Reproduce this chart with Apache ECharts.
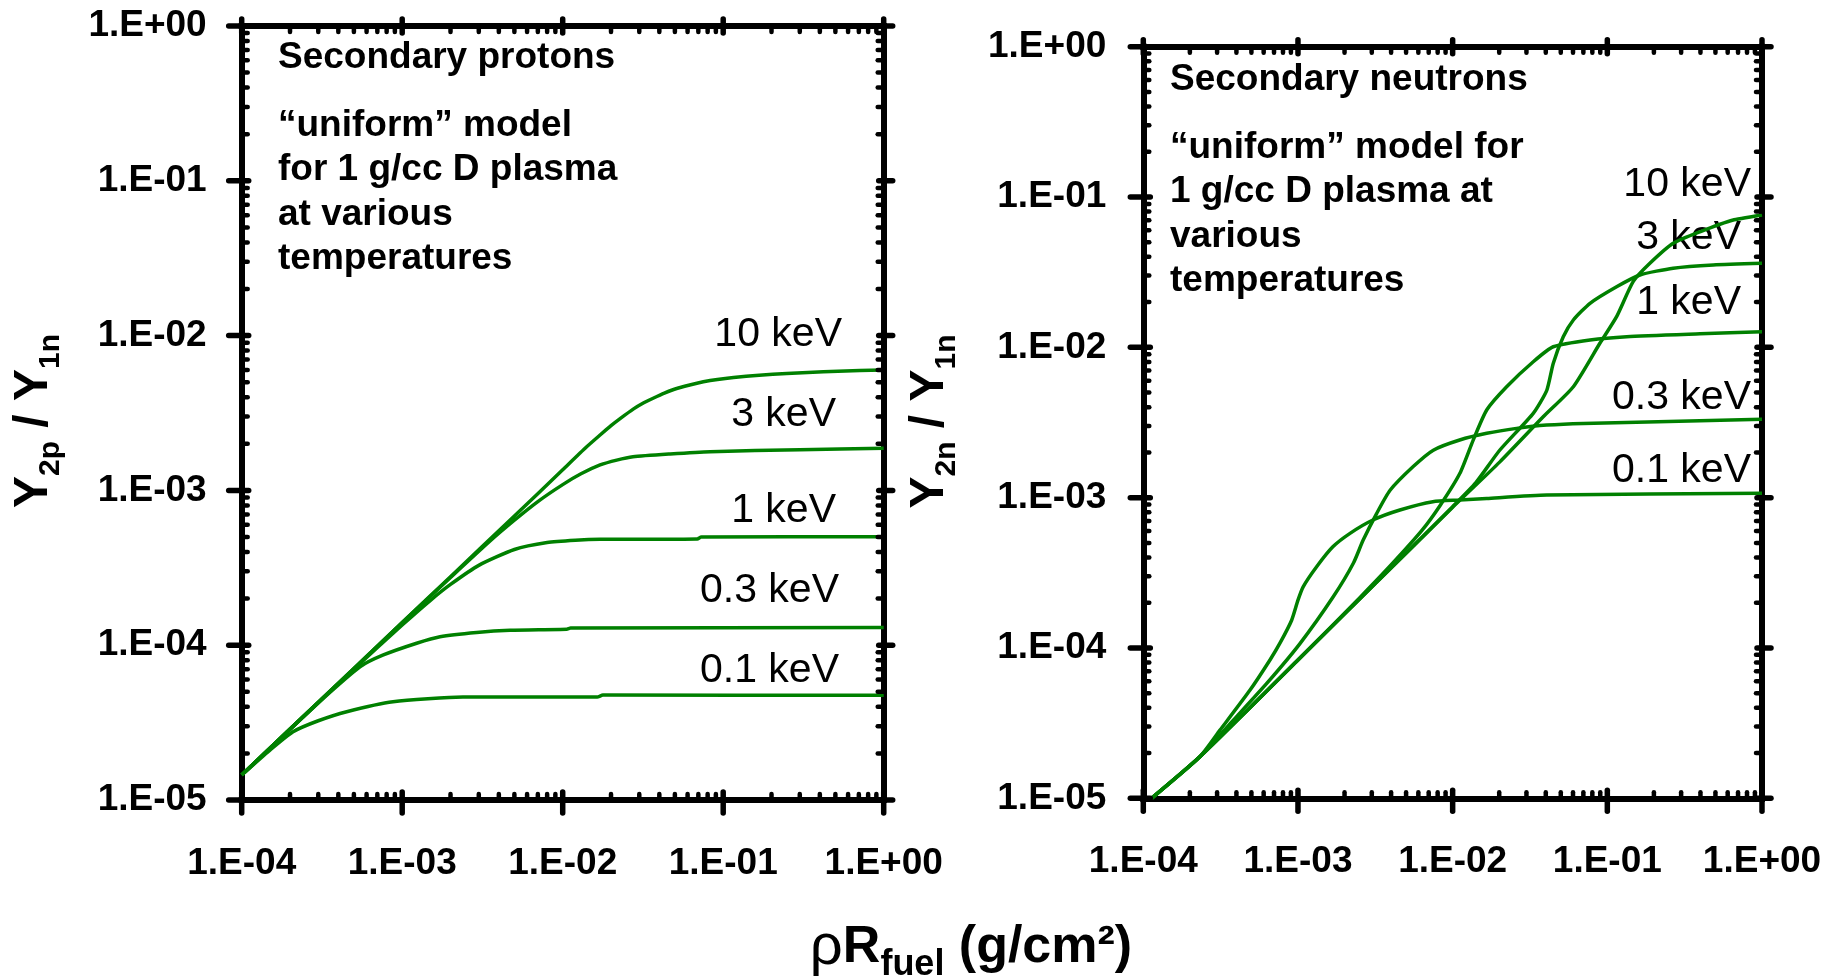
<!DOCTYPE html>
<html>
<head>
<meta charset="utf-8">
<script src="https://cdn.jsdelivr.net/npm/echarts@6/dist/echarts.min.js"></script>
<style>
  html, body { margin: 0; padding: 0; background: #fff; }
  #chart { width: 1827px; height: 976px; }
</style>
</head>
<body>
<div id="chart"></div>
<script>
// Axis decades and their labels
const xDecades = [1e-4, 1e-3, 1e-2, 1e-1, 1];
const yDecades = [1e-5, 1e-4, 1e-3, 1e-2, 1e-1, 1];
const xTickLabels = ['1.E-04', '1.E-03', '1.E-02', '1.E-01', '1.E+00'];
const yTickLabels = ['1.E-05', '1.E-04', '1.E-03', '1.E-02', '1.E-01', '1.E+00'];

// Secondary protons, Y2p/Y1n vs rhoR (g/cm2)
const protons10keV = [[1e-4,1.45e-5],[2e-4,2.87e-5],[5e-4,7.08e-5],[1e-3,1.40e-4],[2e-3,2.77e-4],[5e-3,6.83e-4],[1e-2,1.36e-3],[1.4e-2,1.9e-3],[1.71e-2,2.28e-3],[2.0e-2,2.62e-3],[2.3e-2,2.93e-3],[2.75e-2,3.35e-3],[3.2e-2,3.68e-3],[3.66e-2,3.94e-3],[4.3e-2,4.25e-3],[5.13e-2,4.55e-3],[7.52e-2,5.04e-3],[0.116,5.37e-3],[0.249,5.7e-3],[0.711,5.95e-3],[1,6.0e-3]];
const protons3keV = [[1e-4,1.45e-5],[2e-4,2.87e-5],[5e-4,7.08e-5],[1e-3,1.40e-4],[2e-3,2.74e-4],[3.5e-3,4.68e-4],[5e-3,6.42e-4],[7e-3,8.47e-4],[1e-2,1.09e-3],[1.3e-2,1.28e-3],[1.71e-2,1.46e-3],[2.17e-2,1.57e-3],[2.74e-2,1.65e-3],[4.67e-2,1.72e-3],[8.28e-2,1.78e-3],[0.3,1.83e-3],[1,1.87e-3]];
const protons1keV = [[1e-4,1.45e-5],[2e-4,2.87e-5],[5e-4,7.0e-5],[1e-3,1.35e-4],[1.5e-3,1.95e-4],[2e-3,2.47e-4],[3e-3,3.28e-4],[5e-3,4.15e-4],[8e-3,4.6e-4],[1.2e-2,4.76e-4],[1.71e-2,4.83e-4],[6.9e-2,4.86e-4],[7.3e-2,5.0e-4],[1,5.02e-4]];
const protons03keV = [[1e-4,1.45e-5],[2e-4,2.86e-5],[3.5e-4,4.9e-5],[5.46e-4,7.26e-5],[7.63e-4,8.65e-5],[1.23e-3,1.03e-4],[1.72e-3,1.135e-4],[2.91e-3,1.21e-4],[4.7e-3,1.25e-4],[1.06e-2,1.27e-4],[1.12e-2,1.29e-4],[1,1.3e-4]];
const protons01keV = [[1e-4,1.45e-5],[1.5e-4,2.1e-5],[2.09e-4,2.76e-5],[3e-4,3.25e-5],[4.51e-4,3.72e-5],[8.77e-4,4.31e-5],[2.39e-3,4.62e-5],[1.64e-2,4.62e-5],[1.78e-2,4.76e-5],[1,4.75e-5]];

// Secondary neutrons, Y2n/Y1n vs rhoR (g/cm2)
const neutrons10keV = [[1.13e-4,1e-5],[2.32e-4,1.89e-5],[1e-3,8.32e-5],[3.16e-3,2.68e-4],[1e-2,8.63e-4],[2.02e-2,1.73e-3],[3.85e-2,3.45e-3],[6.03e-2,5.47e-3],[8.95e-2,1.064e-2],[0.1148,1.6e-2],[0.1469,2.735e-2],[0.1884,3.62e-2],[0.2667,4.92e-2],[0.397,5.87e-2],[0.6516,7.03e-2],[1,7.59e-2]];
const neutrons3keV = [[1.13e-4,1e-5],[2.32e-4,1.89e-5],[1e-3,8.32e-5],[3.16e-3,2.68e-4],[1e-2,8.71e-4],[1.413e-2,1.259e-3],[2.02e-2,2.075e-3],[3.32e-2,3.64e-3],[4.06e-2,5.18e-3],[4.47e-2,7.82e-3],[5.19e-2,1.175e-2],[6.03e-2,1.52e-2],[7.73e-2,1.963e-2],[0.1148,2.53e-2],[0.1626,3.03e-2],[0.2667,3.36e-2],[0.484,3.53e-2],[1,3.62e-2]];
const neutrons1keV = [[1.13e-4,1e-5],[2.32e-4,1.89e-5],[1e-3,8.32e-5],[2.51e-3,2.163e-4],[3.98e-3,3.55e-4],[6.31e-3,6.03e-4],[8.32e-3,8.91e-4],[1.114e-2,1.452e-3],[1.358e-2,2.415e-3],[1.66e-2,3.83e-3],[2.234e-2,5.47e-3],[3.32e-2,8.02e-3],[4.47e-2,1.009e-2],[7.73e-2,1.12e-2],[0.1334,1.178e-2],[0.398,1.23e-2],[1,1.27e-2]];
const neutrons03keV = [[1.13e-4,1e-5],[2.32e-4,1.89e-5],[3.82e-4,3.31e-5],[6.28e-4,5.81e-5],[1.03e-3,1.07e-4],[1.69e-3,2.19e-4],[2.28e-3,3.66e-4],[2.64e-3,5.22e-4],[3.23e-3,7.87e-4],[3.94e-3,1.12e-3],[5.56e-3,1.61e-3],[7.5e-3,2.07e-3],[1.11e-2,2.42e-3],[1.66e-2,2.68e-3],[2.59e-2,2.89e-3],[4.06e-2,3.04e-3],[6.98e-2,3.12e-3],[1,3.32e-3]];
const neutrons01keV = [[1.13e-4,1e-5],[2.32e-4,1.89e-5],[3.13e-4,2.84e-5],[4.9e-4,5.25e-5],[6.59e-4,8.32e-5],[7.66e-4,1.08e-4],[9.1e-4,1.53e-4],[1.0e-3,2.08e-4],[1.08e-3,2.55e-4],[1.32e-3,3.47e-4],[1.68e-3,4.71e-4],[2.17e-3,5.79e-4],[3.05e-3,7.1e-4],[4.56e-3,8.28e-4],[7.45e-3,9.4e-4],[1.11e-2,9.64e-4],[1.66e-2,9.89e-4],[4.06e-2,1.04e-3],[1,1.07e-3]];

const GREEN = '#008000';
const FONT = 'Liberation Sans';

function decadeLabel(decades, labels) {
  return function (v) {
    const e = Math.log10(v);
    for (let i = 0; i < decades.length; i++) {
      if (Math.abs(e - Math.log10(decades[i])) < 1e-6) return labels[i];
    }
    return '';
  };
}

// Tick marks on all four sides: [x, y, side(0 bottom,1 top,2 left,3 right), major]
function buildTicks() {
  const items = [];
  const xMin = xDecades[0], yMin = yDecades[0];
  xDecades.forEach((d, i) => {
    items.push([d, yMin, 0, 1], [d, yMin, 1, 1]);
    if (i < xDecades.length - 1) for (let k = 2; k <= 9; k++) items.push([d * k, yMin, 0, 0], [d * k, yMin, 1, 0]);
  });
  yDecades.forEach((d, i) => {
    items.push([xMin, d, 2, 1], [xMin, d, 3, 1]);
    if (i < yDecades.length - 1) for (let k = 2; k <= 9; k++) items.push([xMin, d * k, 2, 0], [xMin, d * k, 3, 0]);
  });
  return items;
}
const TICK_LEN = [ {out: 13, inn: 8}, {out: 7, inn: 7}, {out: 13, inn: 7}, {out: 9, inn: 5} ];
const MINOR_LEN = 6;

function renderTick(params, api) {
  const cs = params.coordSys;
  const side = api.value(2), major = api.value(3) === 1;
  const p = api.coord([api.value(0), api.value(1)]);
  const out = major ? TICK_LEN[side].out : 0;
  const inn = major ? TICK_LEN[side].inn : MINOR_LEN;
  let x1, y1, x2, y2;
  if (side === 0) { const y0 = cs.y + cs.height; x1 = x2 = p[0]; y1 = y0 + out; y2 = y0 - inn; }
  else if (side === 1) { const y0 = cs.y; x1 = x2 = p[0]; y1 = y0 - out; y2 = y0 + inn; }
  else if (side === 2) { const x0 = cs.x; y1 = y2 = p[1]; x1 = x0 - out; x2 = x0 + inn; }
  else { const x0 = cs.x + cs.width; y1 = y2 = p[1]; x1 = x0 + out; x2 = x0 - inn; }
  return { type: 'line', shape: { x1, y1, x2, y2 },
           style: { stroke: '#000', lineWidth: major ? 5.5 : 4.5, lineCap: 'round' } };
}

function xAxisPair(gi) {
  const base = { gridIndex: gi, type: 'log', min: xDecades[0], max: xDecades[xDecades.length - 1],
    axisLine: { lineStyle: { color: '#000', width: 6, cap: 'square' } },
    axisTick: { show: false }, splitLine: { show: false } };
  return [
    Object.assign({}, base, { position: 'bottom',
      axisLabel: { margin: 45, color: '#000', fontFamily: FONT, fontWeight: 'bold', fontSize: 37,
                   formatter: decadeLabel(xDecades, xTickLabels) } }),
    Object.assign({}, base, { position: 'top', axisLabel: { show: false } })
  ];
}
function yAxisPair(gi, margin) {
  const base = { gridIndex: gi, type: 'log', min: yDecades[0], max: yDecades[yDecades.length - 1],
    axisLine: { lineStyle: { color: '#000', width: 6, cap: 'square' } },
    axisTick: { show: false }, splitLine: { show: false } };
  return [
    Object.assign({}, base, { position: 'left',
      axisLabel: { margin: margin, color: '#000', fontFamily: FONT, fontWeight: 'bold', fontSize: 37,
                   formatter: decadeLabel(yDecades, yTickLabels) } }),
    Object.assign({}, base, { position: 'right', axisLabel: { show: false } })
  ];
}

function curve(name, data, gi) {
  return { name, type: 'line', xAxisIndex: gi * 2, yAxisIndex: gi * 2, data,
           showSymbol: false, smooth: 0.2, clip: true,
           lineStyle: { color: GREEN, width: 3.5, join: 'round' }, itemStyle: { color: GREEN }, z: 3 };
}

function txt(x, y, text, opts) {
  return { type: 'text', x, y, silent: true,
    style: Object.assign({ text, fill: '#000', fontFamily: FONT, fontSize: 37, fontWeight: 'bold',
      textAlign: 'left', align: 'left', textVerticalAlign: 'middle', verticalAlign: 'middle' }, opts || {}) };
}
function keV(x, baseline, text) {
  return txt(x, baseline - 12.7, text, { fontSize: 41, fontWeight: 'normal', textAlign: 'right', align: 'right' });
}

const subRich = {
  m: { fontFamily: FONT, fontSize: 48, fontWeight: 'bold', verticalAlign: 'middle' },
  s: { fontFamily: FONT, fontSize: 30, fontWeight: 'bold', verticalAlign: 'middle', padding: [34, 0, 0, 0] },
  M: { fontFamily: FONT, fontSize: 52, fontWeight: 'bold', verticalAlign: 'middle' },
  g: { fontFamily: FONT, fontSize: 58, fontWeight: 'normal', verticalAlign: 'middle' },
  f: { fontFamily: FONT, fontSize: 36, fontWeight: 'bold', verticalAlign: 'middle', padding: [34, 0, 0, 0] }
};
function richTitle(x, y, text, rotation) {
  return { type: 'text', x, y, rotation: rotation || 0, silent: true,
    style: { text, rich: subRich, fill: '#000', textAlign: 'center', align: 'center',
             textVerticalAlign: 'middle', verticalAlign: 'middle' } };
}

const chart = echarts.init(document.getElementById('chart'), null, { renderer: 'canvas' });
const tickData = buildTicks();

chart.setOption({
  animation: false,
  backgroundColor: '#fff',
  grid: [
    { left: 241.7, top: 26, width: 642, height: 774 },
    { left: 1143.3, top: 46.7, width: 618.7, height: 751.6 }
  ],
  xAxis: [].concat(xAxisPair(0), xAxisPair(1)),
  yAxis: [].concat(yAxisPair(0, 35), yAxisPair(1, 37)),
  series: [
    curve('10 keV', protons10keV, 0),
    curve('3 keV', protons3keV, 0),
    curve('1 keV', protons1keV, 0),
    curve('0.3 keV', protons03keV, 0),
    curve('0.1 keV', protons01keV, 0),
    curve('10 keV', neutrons10keV, 1),
    curve('3 keV', neutrons3keV, 1),
    curve('1 keV', neutrons1keV, 1),
    curve('0.3 keV', neutrons03keV, 1),
    curve('0.1 keV', neutrons01keV, 1),
    { type: 'custom', xAxisIndex: 0, yAxisIndex: 0, data: tickData, renderItem: renderTick, clip: false, silent: true, z: 5 },
    { type: 'custom', xAxisIndex: 2, yAxisIndex: 2, data: tickData, renderItem: renderTick, clip: false, silent: true, z: 5 }
  ],
  graphic: [
    txt(278, 58, 'Secondary protons'),
    txt(278, 103.3, '\u201cuniform\u201d model\nfor 1 g/cc D plasma\nat various\ntemperatures',
        { lineHeight: 44.5, textVerticalAlign: 'top', verticalAlign: 'top' }),
    txt(1170, 80.2, 'Secondary neutrons'),
    txt(1170, 125.5, '\u201cuniform\u201d model for\n1 g/cc D plasma at\nvarious\ntemperatures',
        { lineHeight: 44.5, textVerticalAlign: 'top', verticalAlign: 'top' }),
    keV(842, 347, '10 keV'), keV(836, 427, '3 keV'), keV(836, 523, '1 keV'),
    keV(839, 603, '0.3 keV'), keV(839, 683, '0.1 keV'),
    keV(1751, 197, '10 keV'), keV(1741, 250, '3 keV'), keV(1741, 315, '1 keV'),
    keV(1751, 410, '0.3 keV'), keV(1751, 483, '0.1 keV'),
    richTitle(34, 421, '{m|Y}{s|2p}{m| / Y}{s|1n}', Math.PI / 2),
    richTitle(930, 421.5, '{m|Y}{s|2n}{m| / Y}{s|1n}', Math.PI / 2),
    richTitle(971, 948, '{g|\u03c1}{M|R}{f|fuel}{M| (g/cm\u00b2)}', 0)
  ]
});
</script>
</body>
</html>
